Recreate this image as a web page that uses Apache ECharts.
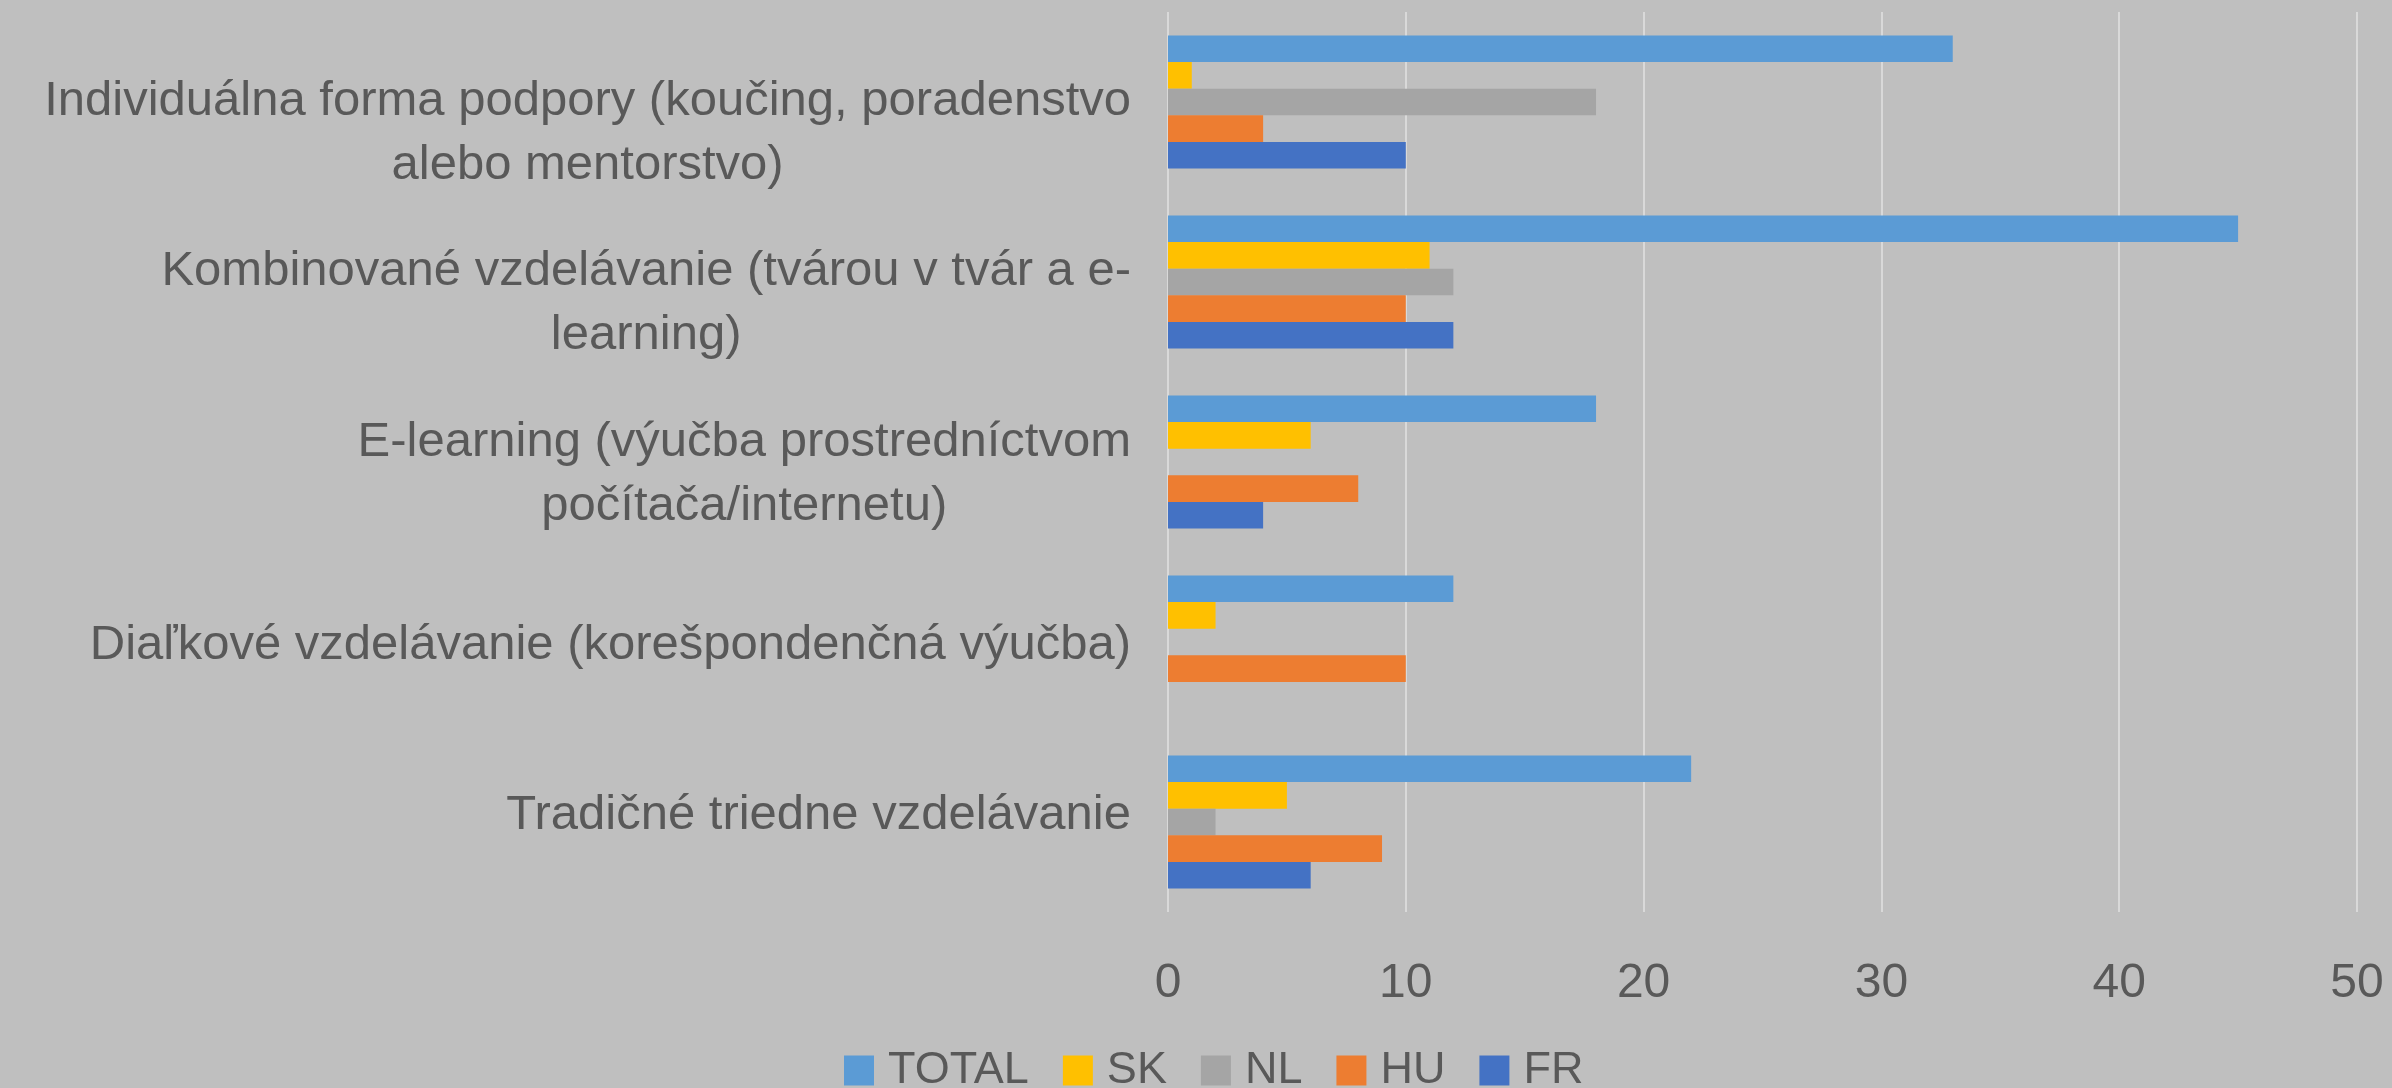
<!DOCTYPE html>
<html>
<head>
<meta charset="utf-8">
<script src="https://cdn.jsdelivr.net/npm/echarts@6/dist/echarts.min.js"></script>
<style>
html,body{margin:0;padding:0;background:#BFBFBF;}
#chart{width:2392px;height:1088px;}
</style>
</head>
<body>
<div id="chart"></div>
<script>
// Categories listed bottom-to-top (as ECharts category y-axis draws them)
const categories = [
  'Tradičné triedne vzdelávanie',
  'Diaľkové vzdelávanie (korešpondenčná výučba)',
  'E-learning (výučba prostredníctvom\npočítača/internetu)',
  'Kombinované vzdelávanie (tvárou v tvár a e-\nlearning)',
  'Individuálna forma podpory (koučing, poradenstvo\nalebo mentorstvo)'
];
const seriesNames = ['TOTAL', 'SK', 'NL', 'HU', 'FR'];
const TOTAL = [22, 12, 18, 45, 33];
const SK    = [5, 2, 6, 11, 1];
const NL    = [2, 0, 0, 12, 18];
const HU    = [9, 10, 8, 10, 4];
const FR    = [6, 0, 4, 12, 10];
const xTicks = [0, 10, 20, 30, 40, 50];

const seriesData = [TOTAL, SK, NL, HU, FR];
const colors = ['#5B9BD5', '#FFC000', '#A5A5A5', '#ED7D31', '#4472C4'];
const FONT = '"Liberation Sans", Arial, sans-serif';
const TXT = '#595959';

const chart = echarts.init(document.getElementById('chart'));
chart.setOption({
  backgroundColor: '#BFBFBF',
  animation: false,
  color: colors,
  textStyle: {fontFamily: FONT},
  legend: {
    data: seriesNames,
    top: 1048,
    left: 844,
    padding: 0,
    itemWidth: 30,
    itemHeight: 30,
    itemGap: 34,
    icon: 'rect',
    textStyle: {fontSize: 45, lineHeight: 30, color: TXT, fontFamily: FONT, padding: [0, 0, 0, 9]}
  },
  grid: [
    {left: 1168, right: 35, top: 12, bottom: 176, containLabel: false},
    {left: 1168, right: 35, top: 48, bottom: 187, containLabel: false}
  ],
  xAxis: [{
    gridIndex: 0,
    type: 'value',
    min: xTicks[0],
    max: xTicks[xTicks.length - 1],
    interval: 10,
    axisLine: {show: false},
    axisTick: {show: false},
    splitLine: {show: true, lineStyle: {color: '#D9D9D9', width: 2}},
    axisLabel: {fontSize: 48, color: TXT, margin: 48, fontFamily: FONT}
  }, {
    gridIndex: 1,
    type: 'value',
    min: 0, max: 50,
    show: false
  }],
  yAxis: [{
    gridIndex: 0,
    type: 'category',
    data: categories,
    axisLine: {show: false},
    axisTick: {show: false},
    axisLabel: {show: false},
    splitLine: {show: false}
  }, {
    gridIndex: 1,
    type: 'category',
    data: categories,
    axisLine: {show: false},
    axisTick: {show: false},
    splitLine: {show: false},
    axisLabel: {
      show: true,
      margin: 37,
      align: 'right',
      formatter: function (v) {
        return v.split('\n').map(function (s) { return '{c|' + s + '}'; }).join('\n');
      },
      rich: {
        c: {align: 'center', fontSize: 49, lineHeight: 64, color: TXT, fontFamily: FONT}
      }
    }
  }],
  series: seriesNames.map(function (name, i) {
    return {
      name: name,
      type: 'bar',
      xAxisIndex: 0,
      yAxisIndex: 0,
      data: seriesData[i],
      barGap: '0%',
      barCategoryGap: '26%',
      itemStyle: {color: colors[i]}
    };
  })
});
</script>
</body>
</html>
